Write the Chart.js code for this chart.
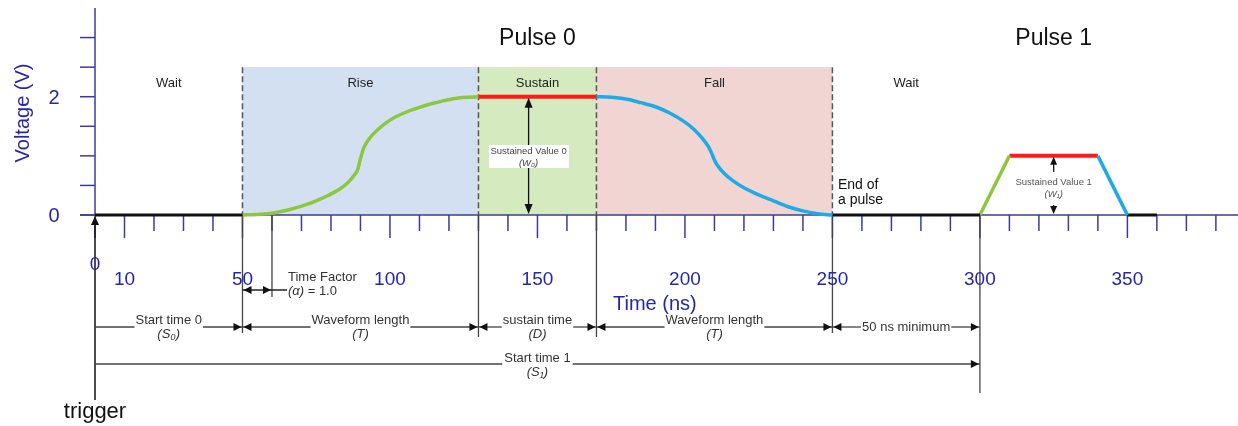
<!DOCTYPE html>
<html lang="en">
<head>
  <meta charset="UTF-8" />
  <title>Pulse timing</title>
  <style>
    html, body { margin: 0; padding: 0; background: #fff; }
    #lienzo { display: block; }
  </style>
</head>
<body>
  <canvas id="lienzo" width="1238" height="426"></canvas>

<script src="https://cdn.jsdelivr.net/npm/chart.js@4.4.0/dist/chart.umd.min.js"></script>
<script>
  // --- data (time in ns, voltage in V) ---
  const idle0Time = [0, 50];
  const idle0Volt = [0, 0];
  const riseTime = [50, 55, 60, 65, 70, 75, 79, 83, 86, 88, 89, 90, 91, 92, 94, 96, 99, 102, 106, 110, 114, 118, 122, 126, 130];
  const riseVolt = [0, 0.01, 0.03, 0.08, 0.15, 0.24, 0.33, 0.44, 0.56, 0.68, 0.76, 0.95, 1.12, 1.22, 1.35, 1.45, 1.57, 1.66, 1.75, 1.82, 1.88, 1.93, 1.97, 1.99, 2.0];
  const sustainTime = [130, 170];
  const sustainVolt = [2, 2];
  const fallTime = [170, 175, 180, 185, 190, 195, 200, 203, 206, 208, 209, 210, 211, 213, 216, 220, 225, 230, 235, 240, 245, 250];
  const fallVolt = [2.0, 1.99, 1.96, 1.9, 1.83, 1.72, 1.57, 1.45, 1.29, 1.15, 1.05, 0.93, 0.84, 0.72, 0.59, 0.46, 0.34, 0.24, 0.14, 0.07, 0.02, 0];
  const idle1Time = [250, 300];
  const idle1Volt = [0, 0];
  const rise1Time = [300, 310];
  const rise1Volt = [0, 1];
  const sustain1Time = [310, 340];
  const sustain1Volt = [1, 1];
  const fall1Time = [340, 350];
  const fall1Volt = [1, 0];
  const idle2Time = [350, 360];
  const idle2Volt = [0, 0];

  const phaseNames = ['Wait', 'Rise', 'Sustain', 'Fall', 'Wait'];
  const phaseEdges = [0, 50, 130, 170, 250, 300];
  const phaseTop = 2.5;
  const pulseNames = ['Pulse 0', 'Pulse 1'];
  const pulseCenters = [150, 325];

  const xTickValues = [0, 10, 20, 30, 40, 50, 60, 70, 80, 90, 100, 110, 120, 130, 140, 150, 160, 170, 180, 190,
                       200, 210, 220, 230, 240, 250, 260, 270, 280, 290, 300, 310, 320, 330, 340, 350, 360, 370, 380];
  const xTickLabels = [0, 10, 50, 100, 150, 200, 250, 300, 350];
  const yTickValues = [0, 0.5, 1, 1.5, 2, 2.5, 3];
  const yTickLabels = [0, 2];

  // dimension spans under the axis
  const spanFrom = [0, 50, 130, 170, 250];
  const spanTo = [50, 130, 170, 250, 300];
  const spanText = ['Start time 0', 'Waveform length', 'sustain time', 'Waveform length', '50 ns minimum'];
  const spanSub = ['(S₀)', '(T)', '(D)', '(T)', ''];

  const AZUL = '#3a3aa2';
  const AZUL_TXT = '#2626a6';
  const FUENTE = '"Liberation Sans", Arial, sans-serif';

  function punta(ctx, px, py, dir, len = 7, half = 3.5) {
    ctx.beginPath();
    ctx.moveTo(px, py);
    if (dir === 'left') { ctx.lineTo(px + len, py - half); ctx.lineTo(px + len, py + half); }
    if (dir === 'right') { ctx.lineTo(px - len, py - half); ctx.lineTo(px - len, py + half); }
    if (dir === 'up') { ctx.lineTo(px - half, py + len); ctx.lineTo(px + half, py + len); }
    if (dir === 'down') { ctx.lineTo(px - half, py - len); ctx.lineTo(px + half, py - len); }
    ctx.closePath();
    ctx.fill();
  }

  function linea(ctx, x0, y0, x1, y1) {
    ctx.beginPath();
    ctx.moveTo(x0, y0);
    ctx.lineTo(x1, y1);
    ctx.stroke();
  }

  const dibujo = {
    id: 'dibujo',
    beforeDatasetsDraw(chart) {
      const { ctx, scales: { x, y } } = chart;
      const X = v => x.getPixelForValue(v);
      const Y = v => y.getPixelForValue(v);
      ctx.save();

      // shaded phases
      const fondos = [null, '#d3e0f1', '#d6eabf', '#f0d5d3', null];
      fondos.forEach((c, i) => {
        if (!c) return;
        ctx.fillStyle = c;
        ctx.fillRect(X(phaseEdges[i]), Y(phaseTop), X(phaseEdges[i + 1]) - X(phaseEdges[i]), Y(0) - Y(phaseTop));
      });

      // axes
      ctx.strokeStyle = AZUL;
      ctx.lineWidth = 1.5;
      linea(ctx, X(0) - 15, Y(0), chart.width, Y(0));
      linea(ctx, X(0), Y(3.5), X(0), Y(0));
      yTickValues.forEach(v => linea(ctx, X(0) - 15, Y(v), X(0), Y(v)));
      xTickValues.forEach(v => {
        const largo = xTickLabels.includes(v) ? 23 : 16;
        linea(ctx, X(v), Y(0), X(v), Y(0) + largo);
      });

      // dashed phase boundaries
      ctx.strokeStyle = '#555';
      ctx.setLineDash([6, 3]);
      phaseEdges.slice(1, 5).forEach(v => linea(ctx, X(v), Y(phaseTop), X(v), Y(0)));
      ctx.setLineDash([]);

      // connector lines below axis
      ctx.strokeStyle = '#444';
      ctx.lineWidth = 1.3;
      linea(ctx, X(50), Y(0), X(50), 333);
      linea(ctx, X(60), Y(0), X(60), 297);
      linea(ctx, X(130), Y(0), X(130), 337);
      linea(ctx, X(170), Y(0), X(170), 337);
      linea(ctx, X(250), Y(0), X(250), 333);
      linea(ctx, X(300), Y(0), X(300), 393);

      // trigger arrow
      ctx.strokeStyle = '#111';
      ctx.fillStyle = '#111';
      ctx.lineWidth = 1.5;
      linea(ctx, X(0), 400, X(0), Y(0) + 6);
      punta(ctx, X(0), Y(0) + 1, 'up', 9, 4);
      ctx.restore();
    },
    afterDatasetsDraw(chart) {
      const { ctx, scales: { x, y } } = chart;
      const X = v => x.getPixelForValue(v);
      const Y = v => y.getPixelForValue(v);
      ctx.save();

      // tick labels
      ctx.fillStyle = AZUL_TXT;
      ctx.font = '19px ' + FUENTE;
      ctx.textAlign = 'center';
      ctx.textBaseline = 'alphabetic';
      xTickLabels.forEach(v => ctx.fillText(String(v), X(v), v === 0 ? 270 : 285));
      ctx.font = '20px ' + FUENTE;
      yTickLabels.forEach(v => ctx.fillText(String(v), 54, Y(v) + 7));
      ctx.textAlign = 'left';
      ctx.fillText('Time (ns)', 613, 310);
      ctx.save();
      ctx.translate(29, 113);
      ctx.rotate(-Math.PI / 2);
      ctx.textAlign = 'center';
      ctx.fillText('Voltage (V)', 0, 0);
      ctx.restore();

      // titles and phase names
      ctx.fillStyle = '#111';
      ctx.textAlign = 'center';
      ctx.font = '23px ' + FUENTE;
      pulseNames.forEach((n, i) => ctx.fillText(n, X(pulseCenters[i]), 45));
      ctx.fillStyle = '#222';
      ctx.font = '13px ' + FUENTE;
      phaseNames.forEach((n, i) => ctx.fillText(n, X((phaseEdges[i] + phaseEdges[i + 1]) / 2), 87));

      ctx.font = '14px ' + FUENTE;
      ctx.textAlign = 'left';
      ctx.fillStyle = '#111';
      ctx.fillText('End of', 838, 189);
      ctx.fillText('a pulse', 838, 204);

      // sustained value 0
      ctx.strokeStyle = '#111';
      ctx.fillStyle = '#111';
      ctx.lineWidth = 1.3;
      linea(ctx, X(147), Y(2) + 4, X(147), Y(0) - 4);
      punta(ctx, X(147), Y(2) + 1, 'up', 10, 4);
      punta(ctx, X(147), Y(0) - 1, 'down', 10, 4);
      ctx.fillStyle = '#fff';
      ctx.fillRect(489, 145, 80, 23);
      ctx.fillStyle = '#444';
      ctx.textAlign = 'center';
      ctx.font = '9.5px ' + FUENTE;
      ctx.fillText('Sustained Value 0', X(147), 154);
      ctx.font = 'italic 9.5px ' + FUENTE;
      ctx.fillText('(W₀)', X(147), 166);

      // sustained value 1
      ctx.fillStyle = '#111';
      linea(ctx, X(325), Y(1) + 4, X(325), Y(1) + 16);
      punta(ctx, X(325), Y(1) + 1, 'up', 8, 3.5);
      linea(ctx, X(325), Y(0) - 10, X(325), Y(0) - 4);
      punta(ctx, X(325), Y(0) - 1, 'down', 8, 3.5);
      ctx.fillStyle = '#555';
      ctx.font = '9.5px ' + FUENTE;
      ctx.fillText('Sustained Value 1', X(325), 185);
      ctx.font = 'italic 9.5px ' + FUENTE;
      ctx.fillText('(W₁)', X(325), 197);

      // time factor
      ctx.strokeStyle = '#222';
      ctx.fillStyle = '#111';
      linea(ctx, X(50), 290, X(60) + 15, 290);
      punta(ctx, X(50) + 1, 290, 'left', 8, 4);
      punta(ctx, X(60) - 1, 290, 'right', 8, 4);
      ctx.fillStyle = '#333';
      ctx.font = '13px ' + FUENTE;
      ctx.textAlign = 'left';
      ctx.fillText('Time Factor', 288, 281);
      ctx.font = 'italic 13px ' + FUENTE;
      ctx.fillText('(α)', 288, 295);
      const wa = ctx.measureText('(α)').width;
      ctx.font = '13px ' + FUENTE;
      ctx.fillText(' = 1.0', 288 + wa, 295);

      // dimension spans
      ctx.strokeStyle = '#444';
      ctx.lineWidth = 1.3;
      spanFrom.forEach((a, i) => {
        const x0 = X(a), x1 = X(spanTo[i]), yy = 327, mid = (x0 + x1) / 2;
        ctx.font = '13px ' + FUENTE;
        const w = ctx.measureText(spanText[i]).width;
        linea(ctx, x0, yy, mid - w / 2 - 1, yy);
        linea(ctx, mid + w / 2 + 1, yy, x1, yy);
        ctx.fillStyle = '#111';
        if (i > 0) punta(ctx, x0 + 1, yy, 'left', 8, 4);
        punta(ctx, x1 - 1, yy, 'right', 8, 4);
        ctx.fillStyle = '#333';
        ctx.textAlign = 'center';
        if (spanSub[i]) {
          ctx.fillText(spanText[i], mid, yy - 3);
          ctx.font = 'italic 13px ' + FUENTE;
          ctx.fillText(spanSub[i], mid, yy + 11);
        } else {
          ctx.textBaseline = 'middle';
          ctx.fillText(spanText[i], mid, yy);
          ctx.textBaseline = 'alphabetic';
        }
      });

      // start time 1
      const s0 = X(0), s1 = X(300), yy = 364, mid = X(150);
      ctx.font = '13px ' + FUENTE;
      const w1 = ctx.measureText('Start time 1').width;
      linea(ctx, s0, yy, mid - w1 / 2 - 2, yy);
      linea(ctx, mid + w1 / 2 + 2, yy, s1, yy);
      ctx.fillStyle = '#111';
      punta(ctx, s1 - 1, yy, 'right', 8, 4);
      ctx.fillStyle = '#333';
      ctx.fillText('Start time 1', mid, yy - 2);
      ctx.font = 'italic 13px ' + FUENTE;
      ctx.fillText('(S₁)', mid, yy + 12);

      // trigger
      ctx.fillStyle = '#111';
      ctx.font = '22px ' + FUENTE;
      ctx.fillText('trigger', X(0), 418);
      ctx.restore();
    }
  };

  function serie(t, v, color, ancho) {
    return {
      data: t.map((tt, i) => ({ x: tt, y: v[i] })),
      borderColor: color,
      borderWidth: ancho,
      pointRadius: 0,
      fill: false,
      clip: false,
      cubicInterpolationMode: 'monotone',
      borderCapStyle: 'butt'
    };
  }

  new Chart(document.getElementById('lienzo'), {
    type: 'line',
    data: {
      datasets: [
        serie(idle0Time, idle0Volt, '#111111', 3),
        serie(riseTime, riseVolt, '#8dc63f', 3.5),
        serie(fallTime, fallVolt, '#1eaae7', 3.5),
        serie(sustainTime, sustainVolt, '#ff1a1a', 4),
        serie(idle1Time, idle1Volt, '#111111', 3),
        serie(rise1Time, rise1Volt, '#8dc63f', 3.5),
        serie(fall1Time, fall1Volt, '#1eaae7', 3.5),
        serie(sustain1Time, sustain1Volt, '#ff1a1a', 4),
        serie(idle2Time, idle2Volt, '#111111', 3)
      ]
    },
    options: {
      responsive: false,
      animation: false,
      layout: { padding: { left: 95, right: 0, top: 8, bottom: 211 } },
      plugins: { legend: { display: false }, tooltip: { enabled: false } },
      scales: {
        x: { type: 'linear', min: 0, max: 387.5, display: false },
        y: { min: 0, max: 3.5, display: false }
      }
    },
    plugins: [dibujo]
  });
</script>
</body>
</html>
